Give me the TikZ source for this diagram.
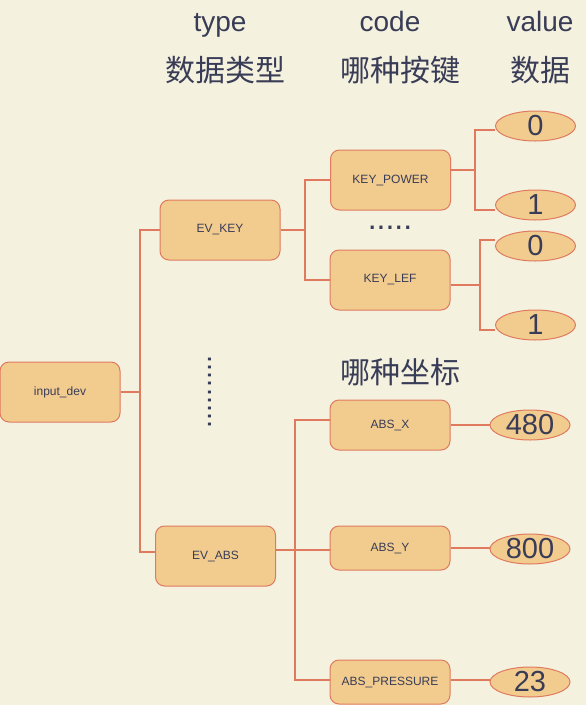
\documentclass[tikz,border=0pt]{standalone}
\usepackage{fontspec}
\setmainfont{Liberation Sans}
\newfontfamily\cjk{Noto Sans CJK SC}
\usetikzlibrary{shapes.geometric}
\definecolor{bgc}{HTML}{F4F1DE}
\definecolor{fillc}{HTML}{F2CC8F}
\definecolor{strokec}{HTML}{E07A5F}
\definecolor{txtc}{HTML}{393C56}
\tikzset{
  box/.style={draw=strokec, fill=fillc, rounded corners=9pt, line width=1pt,
    minimum width=120pt, minimum height=60pt, inner sep=0pt, text=txtc,
    font=\fontsize{12}{14}\selectfont},
  val/.style={ellipse, draw=strokec, fill=fillc, line width=1pt,
    minimum width=80pt, minimum height=30pt, inner sep=0pt, text=txtc,
    font=\fontsize{29}{32}\selectfont},
  edge/.style={draw=strokec, line width=1.6pt},
  head/.style={text=txtc, inner sep=0pt, font=\fontsize{28}{32}\selectfont, anchor=base},
  headcn/.style={text=txtc, inner sep=0pt, font=\cjk\fontsize{30}{34}\selectfont},
  dots/.style={text=txtc, inner sep=0pt, font=\fontsize{32}{34}\selectfont}
}
\begin{document}
\begin{tikzpicture}[x=1pt,y=-1pt]
\useasboundingbox (0,0) rectangle (586,705);
\fill[bgc] (0,0) rectangle (586,705);

% headings
\node[head] (htype) at (220,31) {type};
\node[head] (hcode) at (390,31) {code};
\node[head] (hvalue) at (540,31) {value};
\node[headcn] (cntype) at (225,70) {数据类型};
\node[headcn] (cncode) at (400,70) {哪种按键};
\node[headcn] (cnvalue) at (540,70) {数据};
\node[headcn] (cnabs) at (400,372) {哪种坐标};

% boxes
\node[box] (input) at (60,392) {input\_dev};
\node[box] (evkey) at (220,230) {EV\_KEY};
\node[box] (evabs) at (215.5,556) {EV\_ABS};
\node[box] (kpower) at (390.5,180) {KEY\_POWER};
\node[box] (klef) at (390,280) {KEY\_LEF};
\node[box, minimum height=50pt] (absx) at (390,425) {ABS\_X};
\node[box, minimum height=44pt] (absy) at (390,548) {ABS\_Y};
\node[box, minimum height=44pt] (absp) at (390,682) {ABS\_PRESSURE};

% values
\node[val] (v0a) at (535.5,126) {0};
\node[val] (v1a) at (535.5,205) {1};
\node[val] (v0b) at (535.5,246) {0};
\node[val] (v1b) at (535.5,325) {1};
\node[val] (v480) at (530,425) {480};
\node[val] (v800) at (530,549) {800};
\node[val] (v23) at (530,682) {23};

% dots
\node[dots] (hdots) at (390,228) {.....};
\node[dots, rotate=90, font=\fontsize{29}{32}\selectfont] (vdots) at (210,392) {.........};

% junctions
\coordinate (j1) at (140,392);
\coordinate (j2) at (305,230);
\coordinate (j3) at (475,170);
\coordinate (j4) at (480,285);
\coordinate (j5) at (295,550);

% connectors
\draw[edge] (input.east) -- (j1) |- (evkey.west);
\draw[edge] (j1) |- ([yshift=4pt]evabs.west);
\draw[edge] (evkey.east) -- (j2) |- (kpower.west);
\draw[edge] (j2) |- (klef.west);
\draw[edge] ([yshift=10pt]kpower.east) -- (j3) |- ([yshift=-4pt]v0a.west);
\draw[edge] (j3) |- ([yshift=-5pt]v1a.west);
\draw[edge] ([yshift=-5pt]klef.east) -- (j4) |- ([yshift=6pt]v0b.west);
\draw[edge] (j4) |- ([yshift=-5pt]v1b.west);
\draw[edge] ([yshift=6pt]evabs.east) -- (j5) |- ([yshift=5pt]absx.west);
\draw[edge] (j5) |- ([yshift=-2pt]absy.west);
\draw[edge] (j5) |- ([yshift=2pt]absp.west);
\draw[edge] (absx.east) -- (absx.east -| v480.west);
\draw[edge] (absy.east) -- (absy.east -| v800.west);
\draw[edge] ([yshift=2pt]absp.east) -- ([yshift=2pt]absp.east -| v23.west);
\end{tikzpicture}
\end{document}
